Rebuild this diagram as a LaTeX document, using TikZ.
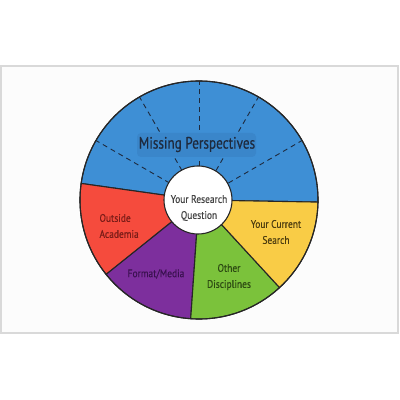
\documentclass[tikz,border=0pt]{standalone}
\usepackage{fontspec}
\usetikzlibrary{calc}
\setmainfont{PT Sans}
\newfontfamily\lab[FakeStretch=0.86,FakeBold=0.4]{PT Sans}
\newfontfamily\biglab[FakeStretch=0.8,FakeBold=0.5]{PT Sans}
\definecolor{cblue}{HTML}{3E8FD5}
\definecolor{cbluebox}{HTML}{3A86CA}
\definecolor{cred}{HTML}{F54B3D}
\definecolor{cpurple}{HTML}{7D2F9D}
\definecolor{cgreen}{HTML}{7BC23B}
\definecolor{cyellow}{HTML}{F9CC46}
\definecolor{tblue}{HTML}{1E2A3E}
\definecolor{tred}{HTML}{7A1C18}
\definecolor{tpurple}{HTML}{3A1150}
\definecolor{tgreen}{HTML}{2C4A12}
\definecolor{tyellow}{HTML}{4E3E10}
\definecolor{tgrey}{HTML}{444444}
\tikzset{
  sector/.style={draw=black!85, line width=1.1pt, line join=round},
  divider/.style={draw=tblue, line width=0.9pt, dash pattern=on 5pt off 4pt},
  small/.style={font=\lab\fontsize{11}{16}\selectfont, align=center},
}
\begin{document}
\begin{tikzpicture}[x=1pt,y=1pt]
\useasboundingbox (0,0) rectangle (400,400);
\fill[white] (0,0) rectangle (400,400);
\draw[fill=black!1, draw=black!15, line width=1.6pt] (1,67) rectangle (398,334);
\coordinate (C) at (199,200);
\def\R{119}
\def\r{34}
% sectors
\path[sector, fill=cblue] (C) -- ++(-1:\R) arc[start angle=-1, end angle=172, radius=\R] -- cycle;
\path[sector, fill=cred] (C) -- ++(172:\R) arc[start angle=172, end angle=218.7, radius=\R] -- cycle;
\path[sector, fill=cpurple] (C) -- ++(218.7:\R) arc[start angle=218.7, end angle=266, radius=\R] -- cycle;
\path[sector, fill=cgreen] (C) -- ++(266:\R) arc[start angle=266, end angle=312.6, radius=\R] -- cycle;
\path[sector, fill=cyellow] (C) -- ++(312.6:\R) arc[start angle=312.6, end angle=359, radius=\R] -- cycle;
% dashed dividers
\foreach \a in {30,60,90,120,150}{
  \path[divider] ($(C)+(\a:\r)$) -- ($(C)+(\a:\R)$);
}
\draw[black!85, line width=1.1pt] (C) circle[radius=\R];
% label box
\fill[cbluebox, rounded corners=4pt] (137,243) rectangle (256,267);
\node[font=\biglab\fontsize{16.5}{18}\selectfont, text=tblue] (mp) at (197,255.5) {Missing Perspectives};
% centre
\node[circle, draw=black!85, line width=1.1pt, fill=white, minimum size=68pt, inner sep=0pt] (q) at (198,200) {};
\node[small, text=tgrey] (qt) at (199,192) {Your Research\\Question};
\node[small, text=tred, anchor=west, align=left] (oa) at (96,174) {Outside\\Academia};
\node[small, text=tyellow] (ys) at (276,168) {Your Current\\Search};
\node[small, text=tpurple] (fm) at (156,126) {Format/Media};
\node[small, text=tgreen] (od) at (229,123) {Other\\Disciplines};
\end{tikzpicture}
\end{document}
